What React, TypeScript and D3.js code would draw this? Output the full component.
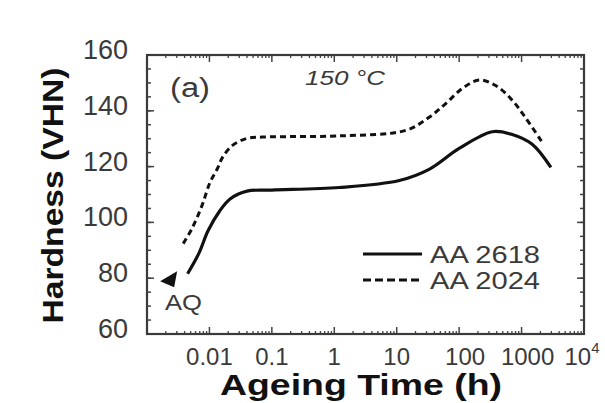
import React from 'react';
import * as d3 from 'd3';

const yTickValues = [60, 80, 100, 120, 140, 160];
const xTickValues = [0.01, 0.1, 1, 10, 100, 1000, 10000];
const xTickLabels = ['0.01', '0.1', '1', '10', '100', '1000', '10'];

const aa2618Time = [0.00447, 0.0068, 0.0095, 0.0145, 0.0214, 0.04, 0.1, 1.2, 11, 33, 100, 339, 708, 1479, 2951];
const aa2618Hard = [81.6, 89, 97, 104, 108.4, 111.2, 111.6, 112.5, 115, 119, 126.5, 132.5, 131.5, 128, 119.7];

const aa2024Time = [0.0038, 0.00525, 0.00759, 0.0102, 0.0135, 0.0162, 0.0234, 0.0398, 0.0708, 1.2, 14.1, 33.1, 61.7, 112, 209, 389, 708, 1175, 2138];
const aa2024Hard = [92.4, 97.8, 106, 114.3, 119.4, 123.3, 127.6, 130.1, 130.6, 131, 133, 137.7, 142.7, 148, 151, 149, 143.8, 137.3, 128.7];

const aqTime = 0.0021;
const aqHard = 80;

const W = 605;
const H = 403;
const L = 147, R = 584, T = 55, B = 334;

export default function App() {
  const x = d3.scaleLog().domain([1e-3, 1e4]).range([L, R]);
  const y = d3.scaleLinear().domain([60, 160]).range([B, T]);

  const line = d3
    .line<[number, number]>()
    .x((d) => x(d[0]))
    .y((d) => y(d[1]))
    .curve(d3.curveCatmullRom.alpha(0.5));

  const p2618 = line(aa2618Time.map((t, i) => [t, aa2618Hard[i]] as [number, number])) || '';
  const p2024 = line(aa2024Time.map((t, i) => [t, aa2024Hard[i]] as [number, number])) || '';

  const yMinor = d3.range(60, 161, 5);
  const xMajor = [1e-3, 1e-2, 1e-1, 1, 10, 100, 1000, 1e4];
  const xMinor: number[] = [];
  for (let e = -3; e < 4; e++) {
    for (let k = 2; k <= 9; k++) xMinor.push(k * Math.pow(10, e));
  }

  const ax = x(aqTime);
  const ay = y(aqHard);
  const tickColor = '#444';
  const textColor = '#3a3a3a';
  const font = 'Liberation Sans, Arial, sans-serif';

  return (
    <svg width={W} height={H} style={{ position: 'absolute', left: 0, top: 0, background: '#fff' }} fontFamily={font}>
      <rect x={0} y={0} width={W} height={H} fill="#fff" />
      {yMinor.map((v) => (
        <g key={'ym' + v}>
          <line x1={L} x2={L + 4} y1={y(v)} y2={y(v)} stroke={tickColor} strokeWidth={1.5} />
          <line x1={R} x2={R - 4} y1={y(v)} y2={y(v)} stroke={tickColor} strokeWidth={1.5} />
        </g>
      ))}
      {yTickValues.map((v) => (
        <g key={'yM' + v}>
          <line x1={L} x2={L + 7} y1={y(v)} y2={y(v)} stroke={tickColor} strokeWidth={1.5} />
          <line x1={R} x2={R - 7} y1={y(v)} y2={y(v)} stroke={tickColor} strokeWidth={1.5} />
        </g>
      ))}
      {xMinor.map((v, i) => (
        <g key={'xm' + i}>
          <line x1={x(v)} x2={x(v)} y1={B} y2={B - 3} stroke={tickColor} strokeWidth={1.3} />
          <line x1={x(v)} x2={x(v)} y1={T} y2={T + 3} stroke={tickColor} strokeWidth={1.3} />
        </g>
      ))}
      {xMajor.map((v, i) => (
        <g key={'xM' + i}>
          <line x1={x(v)} x2={x(v)} y1={B} y2={B - 7} stroke={tickColor} strokeWidth={1.5} />
          <line x1={x(v)} x2={x(v)} y1={T} y2={T + 7} stroke={tickColor} strokeWidth={1.5} />
        </g>
      ))}
      <rect x={L} y={T} width={R - L} height={B - T} fill="none" stroke="#3a3a3a" strokeWidth={2.2} />

      {yTickValues.map((v) => (
        <text key={'yl' + v} x={128} y={y(v) - 5} textAnchor="end" dominantBaseline="central" fontSize={27} fill={textColor}>
          {v}
        </text>
      ))}
      {xTickValues.map((v, i) => (
        <text key={'xl' + i} x={x(v) + (i >= 4 ? 6 : 0) - (i === 6 ? 8 : 0)} y={356} textAnchor="middle" dominantBaseline="central" fontSize={24} fill={textColor}>
          {xTickLabels[i]}
          {i === 6 ? (
            <tspan fontSize={15} dy={-9}>4</tspan>
          ) : null}
        </text>
      ))}

      <text x={220} y={395} fontSize={29} fontWeight="bold" fill="#111" textLength={282} lengthAdjust="spacingAndGlyphs">
        Ageing Time (h)
      </text>
      <text
        transform={`translate(63,${(T + B) / 2 + 1}) rotate(-90)`}
        x={0}
        y={0}
        textAnchor="middle"
        fontSize={30}
        fontWeight="bold"
        fill="#111"
        textLength={256}
        lengthAdjust="spacingAndGlyphs"
      >
        Hardness (VHN)
      </text>

      <path d={p2024} fill="none" stroke="#111" strokeWidth={3} strokeDasharray="6,4" />
      <path d={p2618} fill="none" stroke="#111" strokeWidth={3.2} />

      <path d={`M${ax - 7},${ay + 3} L${ax + 10},${ay - 7} L${ax + 7},${ay + 9} Z`} fill="#111" />
      <text x={165} y={302} dominantBaseline="central" fontSize={22} fill={textColor} textLength={37} lengthAdjust="spacingAndGlyphs">
        AQ
      </text>

      <text x={170} y={88} dominantBaseline="central" fontSize={27} fill={textColor} textLength={40} lengthAdjust="spacingAndGlyphs">
        (a)
      </text>
      <text x={305} y={78} dominantBaseline="central" fontSize={20} fontStyle="italic" fill={textColor} textLength={80} lengthAdjust="spacingAndGlyphs">
        150 °C
      </text>

      <line x1={363} x2={422} y1={254} y2={254} stroke="#111" strokeWidth={3.2} />
      <line x1={363} x2={422} y1={280} y2={280} stroke="#111" strokeWidth={3} strokeDasharray="8,4" />
      <text x={430} y={255} dominantBaseline="central" fontSize={23} fill={textColor} textLength={110} lengthAdjust="spacingAndGlyphs">
        AA 2618
      </text>
      <text x={430} y={281} dominantBaseline="central" fontSize={23} fill={textColor} textLength={110} lengthAdjust="spacingAndGlyphs">
        AA 2024
      </text>
    </svg>
  );
}
